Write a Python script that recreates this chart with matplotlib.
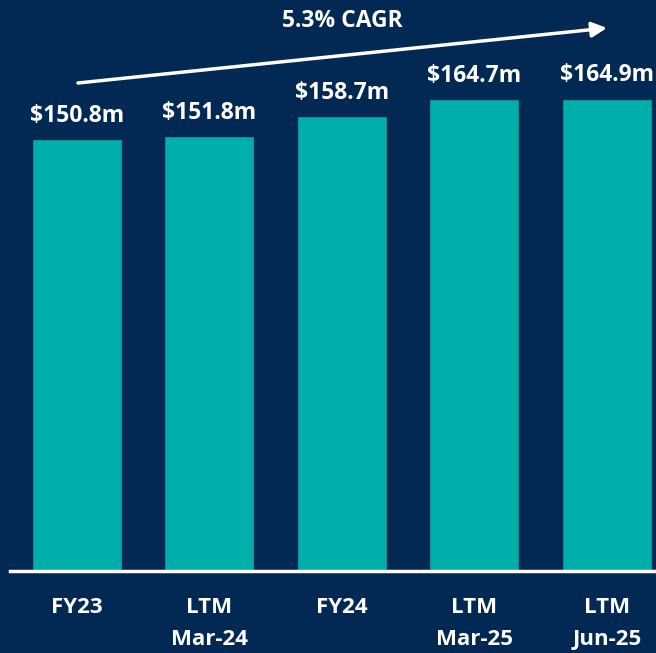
import matplotlib.pyplot as plt

categories = ["FY23", "LTM\nMar-24", "FY24", "LTM\nMar-25", "LTM\nJun-25"]
revenue = [150.8, 151.8, 158.7, 164.7, 164.9]
value_labels = ["$150.8m", "$151.8m", "$158.7m", "$164.7m", "$164.9m"]
cagr_text = "5.3% CAGR"

bg = "#022953"
teal = "#00AFAA"

plt.rcParams['font.family'] = ['Open Sans', 'DejaVu Sans']

fig = plt.figure(figsize=(6.56, 6.53), dpi=100, facecolor=bg)
W, H = 656, 653
base = 571
ax = fig.add_axes([0, (H - base) / H, 1, base / H])
ax.set_facecolor(bg)

x = range(len(categories))
ax.bar(x, revenue, width=0.664, color=teal, edgecolor="#0b8f92", linewidth=0.8)

ax.set_xlim(-0.581, 4.37)
ax.set_ylim(0, base / 2.858)

for i, v in enumerate(revenue):
    ax.annotate(value_labels[i], (i, v), xytext=(0, 9), textcoords="offset points",
                ha="center", va="bottom", color="white", fontsize=16.5, fontweight="bold")

ax.axhline(0, xmin=10 / W, xmax=1, color="white", linewidth=2.5, clip_on=False)

ax.set_xticks(list(x))
ax.set_xticklabels(categories, color="white", fontsize=16, fontweight="bold", linespacing=1.65)
ax.tick_params(axis="x", length=0, pad=19)
ax.set_yticks([])
for s in ax.spines.values():
    s.set_visible(False)

# CAGR arrow
ax.annotate("", xy=(607 / W, 1 - 28 / H), xytext=(78 / W, 1 - 83 / H),
            xycoords="figure fraction", textcoords="figure fraction",
            arrowprops=dict(arrowstyle="-|>,head_length=0.9,head_width=0.45", color="white",
                            lw=2.5, shrinkA=0, shrinkB=0), annotation_clip=False)
fig.text(342 / W, 1 - 21 / H, cagr_text, ha="center", va="center", color="white",
         fontsize=16.5, fontweight="bold")

fig.savefig("out.png", dpi=100, facecolor=bg)
